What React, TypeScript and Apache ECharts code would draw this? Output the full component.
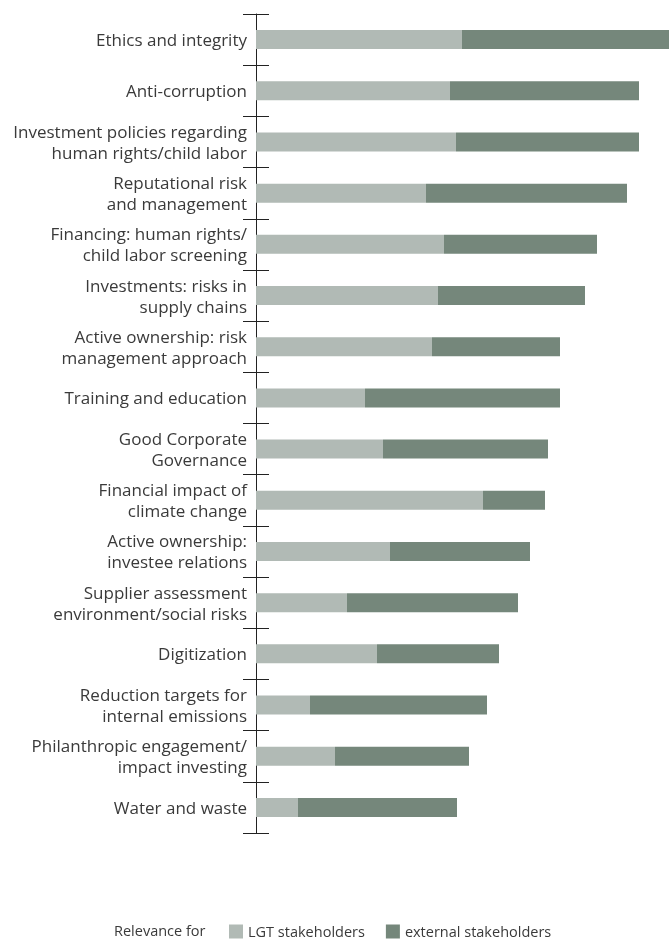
import React, { useEffect, useRef } from "react";
import * as echarts from "echarts";

const categories = [
  "Ethics and integrity",
  "Anti-corruption",
  "Investment policies regarding\nhuman rights/child labor",
  "Reputational risk\nand management",
  "Financing: human rights/\nchild labor screening",
  "Investments: risks in\nsupply chains",
  "Active ownership: risk\nmanagement approach",
  "Training and education",
  "Good Corporate\nGovernance",
  "Financial impact of\nclimate change",
  "Active ownership:\ninvestee relations",
  "Supplier assessment\nenvironment/social risks",
  "Digitization",
  "Reduction targets for\ninternal emissions",
  "Philanthropic engagement/\nimpact investing",
  "Water and waste",
];

const lgtStakeholders = [206, 194, 200, 170, 188, 182, 176, 109, 127, 227, 134, 91, 121, 54, 79, 42];
const externalStakeholders = [207, 189, 183, 201, 153, 147, 128, 195, 165, 62, 140, 171, 122, 177, 134, 159];

const seriesNames = ["LGT stakeholders", "external stakeholders"];
const legendTitle = "Relevance for";

const FONT = "'Open Sans', 'Noto Sans', sans-serif";
const TEXT = "#3a3a3a";

export default function App() {
  const ref = useRef<HTMLDivElement>(null);
  useEffect(() => {
    if (!ref.current) return;
    const chart = echarts.init(ref.current, undefined, { renderer: "svg" });
    chart.setOption({
      animation: false,
      textStyle: { fontFamily: FONT },
      grid: { left: 256, right: 0, top: 14, bottom: 107, containLabel: false },
      xAxis: {
        type: "value",
        min: 0,
        max: 413,
        show: false,
      },
      yAxis: [
        {
          type: "category",
          data: categories,
          inverse: true,
          axisLine: { show: true, lineStyle: { color: "#222", width: 1 } },
          axisTick: { show: true, length: 13, lineStyle: { color: "#222", width: 1 } },
          axisLabel: {
            margin: 9,
            color: TEXT,
            fontSize: 17,
            lineHeight: 21,
            fontFamily: FONT,
            align: "right",
          },
          splitLine: { show: false },
        },
        {
          type: "category",
          data: categories,
          inverse: true,
          position: "left",
          axisLine: { show: false },
          axisTick: { show: true, inside: true, length: 13, lineStyle: { color: "#222", width: 1 } },
          axisLabel: { show: false },
          splitLine: { show: false },
        },
      ],
      legend: {
        left: 229,
        top: 924,
        padding: 0,
        itemWidth: 14,
        itemHeight: 14,
        itemGap: 21,
        icon: "rect",
        textStyle: { color: TEXT, fontSize: 14.5, fontFamily: FONT },
        data: seriesNames,
      },
      graphic: [
        {
          type: "text",
          left: 114,
          top: 923,
          style: { text: legendTitle, fill: TEXT, font: `14.5px ${FONT}` },
        },
      ],
      series: [
        {
          name: seriesNames[0],
          type: "bar",
          stack: "total",
          barWidth: 19,
          itemStyle: { color: "#b1bab5" },
          data: lgtStakeholders,
        },
        {
          name: seriesNames[1],
          type: "bar",
          stack: "total",
          barWidth: 19,
          itemStyle: { color: "#75877b" },
          data: externalStakeholders,
        },
      ],
    });
    return () => chart.dispose();
  }, []);
  return (
    <div
      ref={ref}
      style={{ position: "fixed", left: 0, top: 0, width: 669, height: 940 }}
    />
  );
}
